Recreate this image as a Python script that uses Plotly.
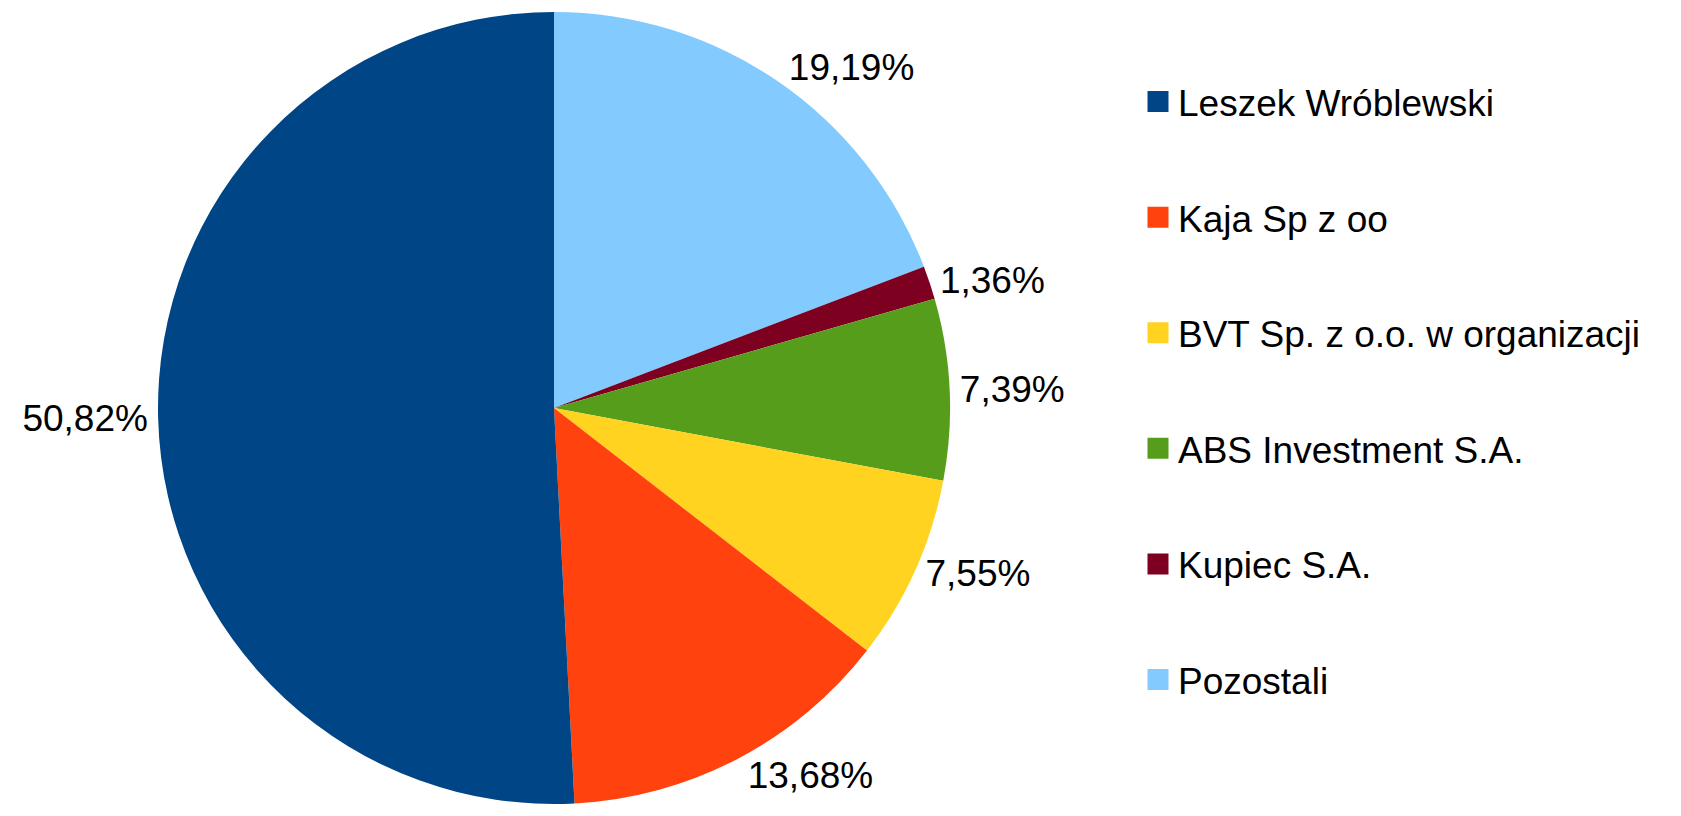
import plotly.graph_objects as go

labels = ["Leszek Wróblewski", "Kaja Sp z oo", "BVT Sp. z o.o. w organizacji",
          "ABS Investment S.A.", "Kupiec S.A.", "Pozostali"]
values = [50.82, 13.68, 7.55, 7.39, 1.36, 19.19]
colors = ["#004586", "#ff420e", "#ffd320", "#579d1c", "#7e0021", "#83caff"]

W, H = 1681, 816
cx, cy, r = 546, 400, 396
FONT = "Liberation Sans"

# The reference runs counterclockwise from 12 o'clock; plotly draws that
# exactly when the slices are given in reverse order and drawn clockwise.
fig = go.Figure()
fig.add_trace(go.Pie(
    labels=labels[::-1], values=values[::-1], sort=False, direction="clockwise", rotation=0,
    marker=dict(colors=colors[::-1], line=dict(width=0)),
    texttemplate="%{value:.2f}%", textposition="outside",
    textfont=dict(family=FONT, size=37, color="black"),
    showlegend=False,
    domain=dict(x=[(cx - r) / W, (cx + r) / W], y=[(H - cy - r) / H, (H - cy + r) / H]),
))
for i, (lab, col) in enumerate(zip(labels, colors)):
    fig.add_trace(go.Scatter(
        x=[None], y=[None], mode="markers", name=lab, legendgroup=f"g{i}",
        marker=dict(symbol="square", size=16, color=col, line=dict(width=5, color=col)),
        hoverinfo="skip",
    ))

fig.update_layout(
    width=W, height=H, margin=dict(l=0, r=0, t=0, b=0),
    paper_bgcolor="white", plot_bgcolor="white",
    separators=", ",
    font=dict(family=FONT, color="black"),
    xaxis=dict(visible=False), yaxis=dict(visible=False),
    legend=dict(
        x=1130 / W, xanchor="left", y=(H - 63) / H, yanchor="top",
        font=dict(family=FONT, size=37, color="black"),
        tracegroupgap=64.5, itemclick=False, itemdoubleclick=False,
        bgcolor="rgba(0,0,0,0)",
    ),
)
fig.write_html("out.html")
